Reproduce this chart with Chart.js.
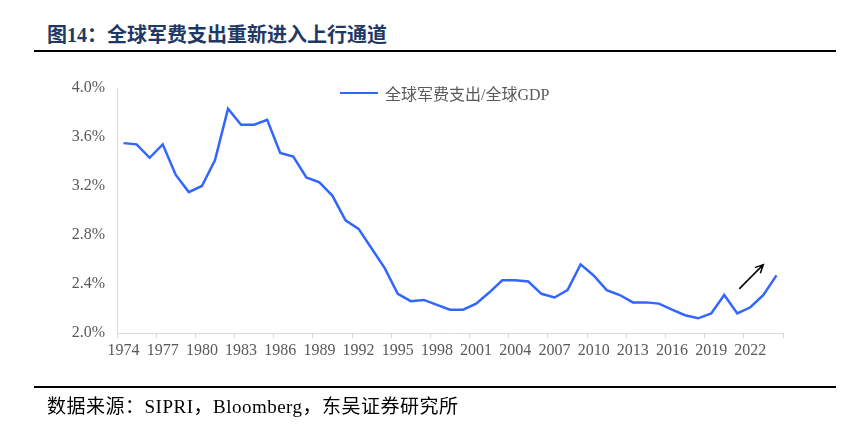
<!DOCTYPE html>
<html>
<head>
<meta charset="utf-8">
<script src="https://cdn.jsdelivr.net/npm/chart.js@4"></script>
<style>
  html, body { margin: 0; padding: 0; background: #fff; }
  #wrap { position: relative; width: 851px; height: 426px; overflow: hidden; }
  #c { position: absolute; left: 0; top: 0; }
  .title { position: absolute; left: 47px; top: 20px; font: bold 20px "Noto Sans CJK SC", sans-serif; color: #1f3864; line-height: 27px; white-space: nowrap; }
  .title .num { font-family: "Liberation Serif", serif; }
  .rule { position: absolute; left: 34px; width: 802px; height: 2px; background: #000; }
  .source { position: absolute; left: 47px; top: 394px; font: 19px "Liberation Serif", "Noto Sans CJK SC", serif; letter-spacing: 0.5px; color: #000; line-height: 25px; white-space: nowrap; }
  .legend { position: absolute; left: 340px; top: 83px; height: 20px; display: flex; align-items: center; white-space: nowrap; }
  .legend .swatch { width: 38px; height: 2.5px; background: #3366ff; margin-right: 7px; }
  .legend .txt { font: 16px "Liberation Serif", "Noto Sans CJK SC", serif; color: #595959; }
</style>
</head>
<body>
<div id="wrap">
  <div class="title">图<span class="num">14</span>：全球军费支出重新进入上行通道</div>
  <div class="rule" style="top:50px"></div>
  <canvas id="c" width="851" height="426"></canvas>
  <div class="legend"><span class="swatch"></span><span class="txt">全球军费支出/全球GDP</span></div>
  <div class="rule" style="top:386px"></div>
  <div class="source">数据来源：SIPRI，Bloomberg，东吴证券研究所</div>
</div>
<script>
const years = [];
for (let y = 1974; y <= 2024; y++) years.push(String(y));

const seriesName = '全球军费支出/全球GDP';
const milexShare = [
  3.55, 3.54, 3.43, 3.54, 3.29, 3.15, 3.20, 3.41, 3.83, 3.70,
  3.70, 3.74, 3.47, 3.44, 3.27, 3.23, 3.12, 2.92, 2.85, 2.69,
  2.53, 2.32, 2.26, 2.27, 2.23, 2.19, 2.19, 2.24, 2.33, 2.43,
  2.43, 2.42, 2.32, 2.29, 2.35, 2.56, 2.47, 2.35, 2.31, 2.25,
  2.25, 2.24, 2.19, 2.145, 2.12, 2.16, 2.31, 2.16, 2.21, 2.31,
  2.47
];

const yMin = 2.0, yMax = 4.0, yStep = 0.4;
const labelEvery = 3;

// arrow annotation in data space: [category index, value]
const arrowFrom = [47.15, 2.36];
const arrowTo = [48.99, 2.558];

const arrowPlugin = {
  id: 'arrow',
  afterDatasetsDraw(chart) {
    const { ctx, scales: { x, y } } = chart;
    const x1 = x.getPixelForValue(arrowFrom[0]), y1 = y.getPixelForValue(arrowFrom[1]);
    const x2 = x.getPixelForValue(arrowTo[0]), y2 = y.getPixelForValue(arrowTo[1]);
    const ang = Math.atan2(y2 - y1, x2 - x1);
    const h = 9;
    ctx.save();
    ctx.strokeStyle = '#000';
    ctx.lineWidth = 1.5;
    ctx.beginPath();
    ctx.moveTo(x1, y1); ctx.lineTo(x2, y2);
    ctx.moveTo(x2 - h * Math.cos(ang - 0.45), y2 - h * Math.sin(ang - 0.45));
    ctx.lineTo(x2, y2);
    ctx.lineTo(x2 - h * Math.cos(ang + 0.45), y2 - h * Math.sin(ang + 0.45));
    ctx.stroke();
    ctx.restore();
  }
};

const tickFont = { family: '"Liberation Serif", serif', size: 16 };
const axisGray = '#d9d9d9';

new Chart(document.getElementById('c'), {
  type: 'line',
  data: {
    labels: years,
    datasets: [{
      label: seriesName,
      data: milexShare,
      borderColor: '#3366ff',
      borderWidth: 2.5,
      pointRadius: 0,
      tension: 0,
      fill: false
    }]
  },
  options: {
    responsive: false,
    animation: false,
    devicePixelRatio: 1,
    layout: { padding: { left: 0, top: 88, right: 68, bottom: 0 } },
    plugins: { legend: { display: false }, tooltip: { enabled: false } },
    scales: {
      x: {
        type: 'category',
        offset: true,
        grid: {
          offset: true,
          drawOnChartArea: false,
          drawTicks: true,
          tickLength: 5,
          tickWidth: 1,
          tickColor: (c) => (c.index === undefined || c.index % labelEvery === 0) ? axisGray : 'rgba(0,0,0,0)'
        },
        border: { color: axisGray, width: 1 },
        ticks: {
          autoSkip: false,
          maxRotation: 0,
          minRotation: 0,
          padding: 3,
          color: '#595959',
          font: tickFont,
          callback: function (v, i) { return i % labelEvery === 0 ? this.getLabelForValue(v) : ''; }
        },
        afterFit: (s) => { s.height = 93; }
      },
      y: {
        min: yMin,
        max: yMax,
        grid: { drawOnChartArea: false, drawTicks: false },
        border: { color: axisGray, width: 1 },
        ticks: {
          stepSize: yStep,
          padding: 12,
          color: '#595959',
          font: tickFont,
          callback: (v) => v.toFixed(1) + '%'
        },
        afterFit: (s) => { s.width = 117; }
      }
    }
  },
  plugins: [arrowPlugin]
});
</script>
</body>
</html>
